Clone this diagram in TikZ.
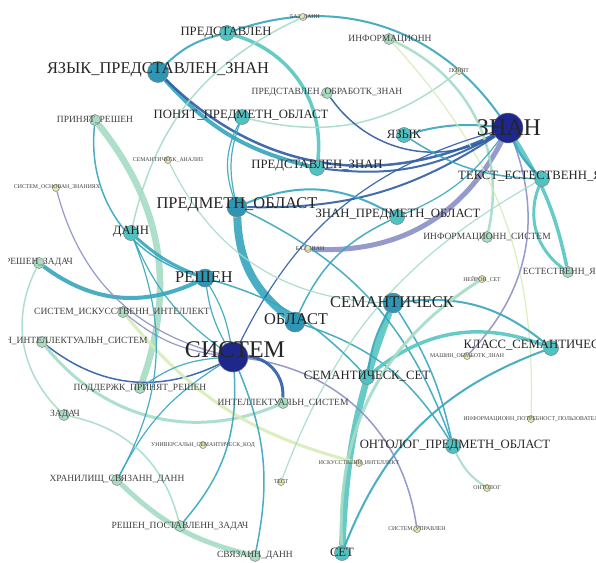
\documentclass[tikz,border=0pt]{standalone}
\usepackage{fontspec}
\setmainfont{Liberation Serif}
\pgfdeclarelayer{bg}
\pgfsetlayers{bg,main}
\definecolor{cNavy}{HTML}{1E288C}
\definecolor{cTeal}{HTML}{2C96B4}
\definecolor{cTurq}{HTML}{4FC2C2}
\definecolor{cPale}{HTML}{A9DCC0}
\definecolor{cYel}{HTML}{E6E6B4}
\definecolor{eNavy}{HTML}{2E5DA6}
\definecolor{eLav}{HTML}{8A90C6}
\definecolor{eTeal}{HTML}{36A6BE}
\definecolor{eTurq}{HTML}{56C6C0}
\definecolor{ePale}{HTML}{A6DCC6}
\definecolor{eYel}{HTML}{D6EDB8}
\tikzset{
  vtx/.style={circle, draw=black!50, line width=0.5pt, inner sep=0pt, minimum size=#1},
  nNavy/.style={vtx=30pt, fill=cNavy},
  nTeal/.style={vtx=20pt, fill=cTeal},
  nTurq/.style={vtx=15pt, fill=cTurq},
  nPale/.style={vtx=11pt, fill=cPale},
  nYel/.style={vtx=7pt, fill=cYel},
  lb/.style={inner sep=0pt, font=\fontsize{#1}{#1}\selectfont, text=black!85},
  lbXL/.style={lb=24},
  lbL/.style={lb=16.4},
  lbM/.style={lb=12.7},
  lbS/.style={lb=9.5, text=black!75},
  lbT/.style={lb=5.8, text=black!75},
  vr/.style={bend right=#1},
  vl/.style={bend left=#1},
  ed/.style={line width=#1, opacity=0.9},
}
\begin{document}
\begin{tikzpicture}[x=1pt,y=-1pt]
\useasboundingbox (0,0) rectangle (596,562);
\clip (8,0) rectangle (596,562);
% nodes
\node[nNavy] (znan) at (508,128) {};
\node[nNavy] (sistem) at (233,357) {};
\node[nTeal, vtx=21pt] (yazpr) at (158,72) {};
\node[nTeal] (predob) at (237,207) {};
\node[nTeal, vtx=18pt] (reshen) at (205,278) {};
\node[nTeal] (oblast) at (295,322) {};
\node[nTeal] (sem) at (393,303) {};
\node[nTurq] (predst) at (227,33) {};
\node[nTurq] (ponyatpr) at (242,117) {};
\node[nTurq] (yazyk) at (404,135) {};
\node[nTurq] (predznan) at (317,168) {};
\node[nTurq] (dann) at (131,233) {};
\node[nTurq] (znanpr) at (397,217) {};
\node[nTurq] (tekst) at (542,179) {};
\node[nTurq] (klass) at (551,348) {};
\node[nTurq] (semset) at (367,377) {};
\node[nTurq] (ontpr) at (453,446) {};
\node[nTurq] (set) at (342,553) {};
\node[nPale] (inform) at (389,39) {};
\node[nPale] (predobr) at (327,93) {};
\node[nPale] (prinyat) at (95,120) {};
\node[nPale] (infsist) at (487,237) {};
\node[nPale] (estyaz) at (568,272) {};
\node[nPale] (reshzad) at (39,263) {};
\node[nPale] (sisisk) at (123,312) {};
\node[nPale] (proekt) at (42,342) {};
\node[nPale] (podderzh) at (140,388) {};
\node[nPale] (intsist) at (283,403) {};
\node[nPale] (zadach) at (64,415) {};
\node[nPale] (hranil) at (117,480) {};
\node[nPale] (reshpost) at (180,526) {};
\node[nPale] (svyaz) at (255,556) {};
\node[nYel] (bazdann) at (303,17) {};
\node[nYel] (ponyat) at (459,71) {};
\node[nYel] (semanal) at (168,160) {};
\node[nYel] (sisosn) at (56,188) {};
\node[nYel] (bazznan) at (308,249) {};
\node[nYel] (neyron) at (482,279) {};
\node[nYel] (mashin) at (467,356) {};
\node[nYel] (infpotr) at (531,419) {};
\node[nYel] (univ) at (203,445) {};
\node[nYel] (iskint) at (359,463) {};
\node[nYel] (test) at (281,482) {};
\node[nYel] (ontolog) at (487,488) {};
\node[nYel] (sisupr) at (417,529) {};
% edges
\begin{pgfonlayer}{bg}
\fill[white] (0,0) rectangle (596,562);
\begin{scope}
\clip (8,0) rectangle (596,562);
\draw[ed=8, eTeal] (predob) to[vr=25] (oblast);
\draw[ed=5, eLav] (znan) to[vl=33] (bazznan);
\draw[ed=6.5, eTurq] (sem) to[vr=9] (set);
\draw[ed=6.5, ePale] (prinyat) to[vl=29] (podderzh);
\draw[ed=5, ePale] (hranil) to[vr=15] (svyaz);
\draw[ed=3.5, eTurq] (znan) to[vl=10] (estyaz);
\draw[ed=3, eTurq] (tekst) to[vr=38] (estyaz);
\draw[ed=4, eTeal] (reshzad) to[vr=31] (reshen);
\draw[ed=4, eTeal] (yazpr) to[vr=17] (predznan);
\draw[ed=2.5, eNavy] (yazpr) to[vr=35] (znan);
\draw[ed=3.5, eTurq] (predst) to[vl=40] (predznan);
\draw[ed=2, eTeal] (predst) to[vl=37] (znan);
\draw[ed=2, eTeal] (predst) to[vr=15] (yazpr);
\draw[ed=1.5, ePale] (bazdann) to[vr=26] (dann);
\draw[ed=1.2, eTeal] (ponyatpr) to[vr=16] (predob);
\draw[ed=1.2, eTeal] (ponyatpr) to[vr=23] (predob);
\draw[ed=1.5, ePale] (ponyatpr) to[vr=26] (ponyat);
\draw[ed=1.5, eNavy] (predobr) to[vr=42] (znan);
\draw[ed=2, eTeal] (yazyk) to[vl=10] (znan);
\draw[ed=2.5, ePale] (inform) to[vl=39] (infsist);
\draw[ed=1.2, eYel] (inform) to[vl=22] (infpotr);
\draw[ed=1.5, eLav] (znan) to[vl=32] (mashin);
\draw[ed=2, eNavy] (znan) to[vl=18] (predznan);
\draw[ed=2, eNavy] (znan) to[vl=17] (predob);
\draw[ed=1.2, eTeal] (znan) to[vl=15] (znanpr);
\draw[ed=1.2, eNavy] (sistem) to[vl=24] (znan);
\draw[ed=2, eTeal] (predob) to[vl=26] (znanpr);
\draw[ed=1.5, eTeal] (znanpr) to[vr=20] (oblast);
\draw[ed=1.5, eTeal] (predob) to[vl=22] (ontpr);
\draw[ed=1.5, eTeal] (oblast) to[vl=20] (ontpr);
\draw[ed=1.5, eTeal] (sem) to[vl=10] (ontpr);
\draw[ed=2, eTeal] (sem) to[vl=23] (klass);
\draw[ed=3.5, eTurq] (semset) to[vl=30] (klass);
\draw[ed=2, eTeal] (set) to[vl=24] (klass);
\draw[ed=3, ePale] (set) to[vl=30] (neyron);
\draw[ed=2, eTeal] (sem) to[vr=10] (semset);
\draw[ed=1.5, eLav] (sistem) to[vl=37] (sisupr);
\draw[ed=3, eNavy] (sistem) to[vl=45] (intsist);
\draw[ed=1.5, eNavy] (proekt) to[vr=32] (sistem);
\draw[ed=3, ePale] (proekt) to[vr=37] (intsist);
\draw[ed=3, eYel] (sisisk) to[vr=18] (iskint);
\draw[ed=1.2, eLav] (sisisk) to[vr=15] (sistem);
\draw[ed=1.2, eLav] (sisosn) to[vr=30] (sistem);
\draw[ed=1.2, eTeal] (reshen) to[vr=10] (sistem);
\draw[ed=1.2, eTeal] (reshen) to[vl=10] (sistem);
\draw[ed=3, eTeal] (dann) to[vr=10] (reshen);
\draw[ed=1.2, eTeal] (dann) to[vr=15] (sistem);
\draw[ed=1.2, eTeal] (podderzh) to[vl=15] (sistem);
\draw[ed=1.5, eTeal] (sistem) to[vl=17] (svyaz);
\draw[ed=1.5, eTeal] (sistem) to[vl=22] (reshpost);
\draw[ed=1.2, eTeal] (sistem) to[vr=15] (hranil);
\draw[ed=1.5, ePale] (zadach) to[vl=32] (reshpost);
\draw[ed=1.5, ePale] (reshzad) to[vr=36] (zadach);
\draw[ed=1.2, ePale] (semanal) to[vr=31] (sem);
\draw[ed=1.5, eTeal] (prinyat) to[vr=40] (reshen);
\draw[ed=1.2, ePale] (tekst) to[vr=20] (test);
\draw[ed=1.5, eTeal] (reshen) to[vl=15] (semset);
\draw[ed=1.2, eTeal] (dann) to[vl=25] (hranil);
\draw[ed=2.5, eTeal] (znan) to[vr=10] (tekst);
\draw[ed=1.5, eTeal] (yazyk) to[vr=15] (tekst);
\draw[ed=2, ePale] (ontpr) to[vr=15] (ontolog);
\end{scope}
\end{pgfonlayer}
% labels
\node[lbXL] (l-znan) at (509,128) {ЗНАН};
\node[lbXL] (l-sistem) at (235,350) {СИСТЕМ};
\node[lbL] (l-yazpr) at (158,70) {ЯЗЫК\_ПРЕДСТАВЛЕН\_ЗНАН};
\node[lbL] (l-predob) at (237,205) {ПРЕДМЕТН\_ОБЛАСТ};
\node[lbL] (l-reshen) at (204,277) {РЕШЕН};
\node[lbL] (l-oblast) at (296,319) {ОБЛАСТ};
\node[lbL] (l-sem) at (392,302) {СЕМАНТИЧЕСК};
\node[lbM] (l-predst) at (226,33) {ПРЕДСТАВЛЕН};
\node[lbM] (l-ponyatpr) at (241,116) {ПОНЯТ\_ПРЕДМЕТН\_ОБЛАСТ};
\node[lbM] (l-yazyk) at (404,134) {ЯЗЫК};
\node[lbM] (l-predznan) at (317,166) {ПРЕДСТАВЛЕН\_ЗНАН};
\node[lbM] (l-dann) at (131,232) {ДАНН};
\node[lbM] (l-znanpr) at (398,215) {ЗНАН\_ПРЕДМЕТН\_ОБЛАСТ};
\node[lbM] (l-tekst) at (543,176) {ТЕКСТ\_ЕСТЕСТВЕНН\_ЯЗЫК};
\node[lbM] (l-klass) at (551,345) {КЛАСС\_СЕМАНТИЧЕСК\_СЕТ};
\node[lbM] (l-semset) at (367,376) {СЕМАНТИЧЕСК\_СЕТ};
\node[lbM] (l-ontpr) at (455,446) {ОНТОЛОГ\_ПРЕДМЕТН\_ОБЛАСТ};
\node[lbM] (l-set) at (342,552) {СЕТ};
\node[lbS] (l-inform) at (390,39) {ИНФОРМАЦИОНН};
\node[lbS] (l-predobr) at (327,92) {ПРЕДСТАВЛЕН\_ОБРАБОТК\_ЗНАН};
\node[lbS] (l-prinyat) at (95,120) {ПРИНЯТ\_РЕШЕН};
\node[lbS] (l-infsist) at (487,237) {ИНФОРМАЦИОНН\_СИСТЕМ};
\node[lbS] (l-estyaz) at (569,272) {ЕСТЕСТВЕНН\_ЯЗЫК};
\node[lbS] (l-reshzad) at (39,262) {РЕШЕН\_ЗАДАЧ};
\node[lbS] (l-sisisk) at (122,312) {СИСТЕМ\_ИСКУССТВЕНН\_ИНТЕЛЛЕКТ};
\node[lbS] (l-proekt) at (42,341) {ПРОЕКТИРОВАН\_ИНТЕЛЛЕКТУАЛЬН\_СИСТЕМ};
\node[lbS] (l-podderzh) at (140,388) {ПОДДЕРЖК\_ПРИНЯТ\_РЕШЕН};
\node[lbS] (l-intsist) at (283,403) {ИНТЕЛЛЕКТУАЛЬН\_СИСТЕМ};
\node[lbS] (l-zadach) at (65,414) {ЗАДАЧ};
\node[lbS] (l-hranil) at (117,479) {ХРАНИЛИЩ\_СВЯЗАНН\_ДАНН};
\node[lbS] (l-reshpost) at (180,526) {РЕШЕН\_ПОСТАВЛЕНН\_ЗАДАЧ};
\node[lbS] (l-svyaz) at (255,555) {СВЯЗАНН\_ДАНН};
\node[lbT] (l-bazdann) at (305,17) {БАЗ\_ДАНН};
\node[lbT] (l-ponyat) at (459,71) {ПОНЯТ};
\node[lbT] (l-semanal) at (168,160) {СЕМАНТИЧЕСК\_АНАЛИЗ};
\node[lbT] (l-sisosn) at (57,187) {СИСТЕМ\_ОСНОВАН\_ЗНАНИЯХ};
\node[lbT] (l-bazznan) at (310,249) {БАЗ\_ЗНАН};
\node[lbT] (l-neyron) at (482,279) {НЕЙРОН\_СЕТ};
\node[lbT] (l-mashin) at (467,356) {МАШИН\_ОБРАБОТК\_ЗНАН};
\node[lbT] (l-infpotr) at (531,419) {ИНФОРМАЦИОНН\_ПОТРЕБНОСТ\_ПОЛЬЗОВАТЕЛ};
\node[lbT] (l-univ) at (203,445) {УНИВЕРСАЛЬН\_СЕМАНТИЧЕСК\_КОД};
\node[lbT] (l-iskint) at (359,463) {ИСКУССТВЕНН\_ИНТЕЛЛЕКТ};
\node[lbT] (l-test) at (281,482) {ТЕСТ};
\node[lbT] (l-ontolog) at (487,488) {ОНТОЛОГ};
\node[lbT] (l-sisupr) at (417,529) {СИСТЕМ\_УПРАВЛЕН};
\end{tikzpicture}
\end{document}
